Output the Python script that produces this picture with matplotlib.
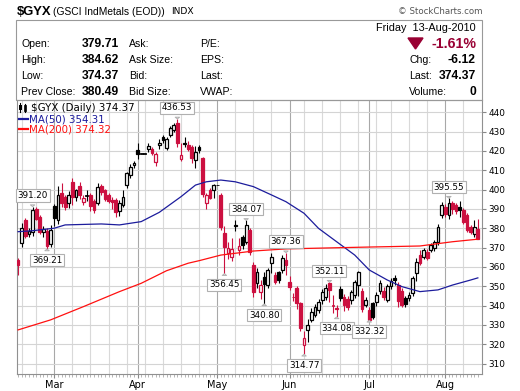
import matplotlib
matplotlib.use("Agg")
import matplotlib.pyplot as plt
from matplotlib.patches import Rectangle, Polygon
from matplotlib.lines import Line2D
import numpy as np
import pandas as pd

# trading days shown (US holidays skipped)
holidays = ["2010-02-15", "2010-05-31", "2010-07-05"]
dates = pd.bdate_range("2010-02-12", "2010-08-13").drop(pd.to_datetime(holidays))

opens = [363.6, 372.5, 384.5, 377.0, 378.0, 390.0, 386.0, 378.0, 378.5, 372.0,
         391.5, 384.0, 398.0, 396.0, 393.0, 404.0, 396.0, 402.0, 393.5, 397.0,
         397.0, 394.0, 393.0, 402.0, 399.5, 397.0, 394.5, 394.6, 389.0, 392.0,
         402.3, 407.5, 412.7, 420.4, 418.5, 418.5, 421.0, 421.0, 414.2, 423.2,
         427.3, 421.5, 428.2, 430.7, 434.4, 415.8, 423.5, 423.0, 422.0, 415.2,
         422.0, 416.3, 393.0, 399.9, 399.7, 402.3, 397.0, 377.5, 367.2, 365.0,
         381.0, 368.5, 375.5, 373.0, 379.0, 361.0, 351.6, 347.0, 354.8, 350.6,
         361.9, 355.8, 357.4, 358.4, 363.6, 352.2, 344.6, 349.0, 341.3, 319.6,
         327.4, 332.6, 335.1, 337.7, 342.9, 344.4, 351.5, 340.2, 338.6, 348.8,
         344.4, 343.5, 342.9, 345.5, 350.6, 347.5, 340.3, 337.8, 341.5, 341.9,
         347.5, 347.5, 342.9, 350.0, 354.5, 350.6, 347.5, 344.0, 344.0, 346.5,
         356.8, 366.1, 365.2, 367.7, 368.7, 369.8, 372.8, 386.8, 391.0, 386.8,
         393.0, 392.0, 391.0, 389.4, 386.8, 380.6, 376.8, 379.71]
highs = [364.6, 382.5, 385.5, 380.0, 391.20, 391.0, 387.0, 381.0, 380.0, 381.5,
         392.5, 402.0, 403.5, 397.0, 399.0, 406.0, 400.5, 404.0, 397.0, 399.5,
         398.0, 395.0, 403.5, 403.0, 400.5, 398.0, 396.0, 395.5, 394.5, 400.0,
         409.0, 413.0, 415.0, 424.0, 418.5, 418.5, 424.0, 422.0, 419.5, 426.0,
         428.0, 427.0, 433.0, 434.5, 436.53, 424.0, 427.0, 425.0, 423.0, 422.5,
         423.0, 417.0, 398.0, 401.0, 403.0, 402.3, 398.0, 381.0, 373.0, 375.0,
         384.5, 375.0, 376.5, 384.07, 380.0, 362.5, 359.5, 353.0, 357.4, 359.5,
         367.2, 357.5, 358.0, 366.0, 367.36, 355.5, 346.5, 350.0, 342.0, 327.0,
         333.0, 338.8, 341.0, 343.5, 348.5, 351.0, 352.11, 345.5, 340.5, 350.0,
         346.0, 345.0, 348.0, 353.0, 357.8, 349.0, 344.5, 339.0, 342.0, 347.0,
         353.0, 349.5, 351.0, 354.0, 356.0, 352.0, 349.0, 345.0, 347.0, 355.5,
         364.5, 368.7, 370.0, 369.0, 372.5, 374.0, 382.0, 393.7, 392.5, 395.55,
         394.0, 393.0, 394.0, 390.5, 388.0, 381.5, 384.0, 384.62]
lows = [355.8, 370.2, 375.0, 375.5, 376.0, 384.0, 377.0, 375.5, 369.21, 370.5,
        381.0, 382.0, 391.0, 389.5, 390.5, 392.0, 394.0, 395.0, 392.0, 394.0,
        389.0, 388.0, 392.0, 397.0, 394.0, 393.0, 390.0, 386.0, 386.5, 391.0,
        401.0, 406.0, 411.0, 416.0, 418.5, 418.5, 419.5, 418.0, 412.0, 421.0,
        424.0, 420.5, 427.0, 429.5, 422.0, 414.5, 421.8, 420.0, 413.5, 411.0,
        419.0, 396.0, 390.0, 395.0, 395.5, 402.3, 379.0, 356.45, 364.0, 363.0,
        378.5, 366.0, 369.5, 372.0, 366.0, 344.4, 349.0, 343.5, 340.80, 349.0,
        356.8, 351.0, 351.5, 357.0, 356.0, 348.0, 342.5, 338.0, 327.0, 314.77,
        321.0, 331.5, 334.0, 336.0, 341.0, 343.0, 341.9, 336.0, 334.08, 342.5,
        337.0, 337.5, 341.0, 344.0, 345.0, 336.5, 339.0, 332.32, 332.8, 340.0,
        346.0, 343.0, 342.0, 348.5, 350.5, 339.0, 339.5, 339.5, 342.5, 345.0,
        352.5, 361.0, 364.0, 363.5, 367.5, 368.0, 371.5, 385.1, 386.0, 385.0,
        387.5, 387.5, 386.0, 382.0, 378.0, 377.0, 375.5, 374.37]
closes = [361.0, 380.0, 376.0, 378.5, 389.5, 385.0, 378.0, 379.5, 371.0, 379.0,
          385.5, 397.0, 393.0, 391.0, 397.0, 396.0, 399.5, 397.0, 395.5, 397.2,
          391.5, 389.5, 401.5, 398.5, 395.0, 394.0, 393.5, 388.4, 393.0, 396.0,
          408.5, 411.6, 413.7, 418.5, 418.5, 418.5, 422.6, 418.8, 418.3, 423.9,
          425.6, 426.0, 431.8, 433.3, 424.1, 417.8, 424.0, 421.0, 416.3, 419.4,
          420.4, 397.5, 397.0, 395.6, 402.3, 402.3, 380.6, 370.3, 370.0, 369.0,
          381.6, 371.0, 371.5, 381.7, 367.7, 347.0, 357.4, 350.6, 351.0, 358.4,
          365.3, 352.2, 353.2, 364.6, 361.0, 349.6, 344.4, 341.3, 328.5, 323.2,
          330.0, 336.7, 339.3, 341.9, 347.0, 349.1, 348.1, 339.9, 338.2, 343.9,
          340.3, 339.5, 347.0, 352.2, 357.4, 338.0, 342.9, 332.6, 334.0, 345.5,
          351.7, 344.4, 350.0, 352.5, 353.0, 342.3, 340.3, 340.6, 345.5, 354.3,
          362.5, 362.0, 368.7, 364.8, 371.3, 372.8, 380.6, 392.0, 387.5, 393.0,
          389.9, 389.0, 389.6, 383.2, 379.1, 378.0, 380.49, 374.37]

# moving averages (day index, value)
ma50_idx = [0, 4, 10, 13, 19, 23, 28, 34, 39, 45, 49, 52, 56, 60,
            65, 70, 74, 79, 83, 88, 93, 97, 102, 106, 111, 116, 120, 125, 127]
ma50_val = [378.2, 378.7, 380.0, 381.7, 382.0, 382.2, 381.7, 383.4, 388.2, 396.3,
            402.3, 404.0, 404.9, 404.0, 401.5, 397.2, 393.7, 387.7, 379.9, 373.0,
            366.1, 358.4, 353.2, 349.8, 347.2, 348.1, 350.6, 353.2, 354.31]
ma200_idx = [0, 9, 18, 28, 34, 41, 47, 50, 56, 65, 74, 93, 111, 120, 127]
ma200_val = [327.4, 332.6, 339.4, 347.2, 351.5, 358.0, 361.9, 363.2, 366.1,
             368.2, 369.3, 370.1, 370.8, 373.0, 374.32]

# labelled extremes
hi_marks = [4, 44, 63, 74, 86, 119]
lo_marks = [8, 57, 68, 79, 88, 97]

RED = "#cc1040"
NAVY = "#1c1c9c"
MAROON = "#990033"
W, H = 520, 391


def fx(x):
    return x / W


def fy(y):
    return 1 - y / H


opens = np.array(opens)
highs = np.array(highs)
lows = np.array(lows)
closes = np.array(closes)
n = len(closes)
xs = np.arange(n)

fig = plt.figure(figsize=(5.2, 3.91), dpi=100)
ax = fig.add_axes([fx(17), fy(374), (482 - 17) / W, (374 - 100) / H])

# grid: weekly + month lines
week = dates.isocalendar().week.values
month = dates.month.values
for i in range(1, n):
    if month[i] != month[i - 1]:
        ax.axvline(i, color="#a8a8a8", lw=0.8, zorder=0)
    elif week[i] != week[i - 1]:
        ax.axvline(i, color="#d9d9d9", lw=0.8, zorder=0)
ax.grid(axis="y", color="#d4d4d4", lw=0.8, zorder=0)

# candles
prev = np.r_[opens[0], closes[:-1]]
for i in range(n):
    c = "black" if closes[i] >= prev[i] else RED
    ax.vlines(i, lows[i], highs[i], colors=c, lw=0.8, zorder=2)
    lo = min(opens[i], closes[i])
    h = abs(closes[i] - opens[i])
    if h < 0.4:
        ax.add_patch(Rectangle((i - 0.4, lo - 0.2), 0.8, 0.4, fc=c, ec=c,
                               lw=0.6, zorder=3))
    else:
        fc = "white" if closes[i] > opens[i] else c
        ax.add_patch(Rectangle((i - 0.38, lo), 0.76, h, fc=fc, ec=c,
                               lw=0.9, zorder=3))

ax.plot(ma50_idx, ma50_val, color=NAVY, lw=0.9, zorder=4)
ax.plot(ma200_idx, ma200_val, color="#ff1010", lw=0.9, zorder=4)

lab_box = dict(boxstyle="square,pad=0.2", fc="white", ec="#b0b0b0", lw=0.8)
for i in hi_marks:
    ax.annotate(f"{highs[i]:.2f}", xy=(i, highs[i]), xytext=(0, 8),
                textcoords="offset points", ha="center", va="center",
                fontsize=6.3, bbox=lab_box, zorder=6,
                arrowprops=dict(arrowstyle="wedge,tail_width=0.5", fc="white",
                                ec="#b0b0b0", lw=0.7, shrinkB=0))
for i in lo_marks:
    ax.annotate(f"{lows[i]:.2f}", xy=(i, lows[i]), xytext=(0, -8),
                textcoords="offset points", ha="center", va="center",
                fontsize=6.3, bbox=lab_box, zorder=6,
                arrowprops=dict(arrowstyle="wedge,tail_width=0.5", fc="white",
                                ec="#b0b0b0", lw=0.7, shrinkB=0))

ax.set_xlim(-0.3, 128.15)
ax.set_ylim(304.6, 446.3)
ax.set_yticks(np.arange(310, 441, 10))
ax.yaxis.tick_right()
ax.tick_params(axis="y", length=3, pad=1.5, labelsize=6.4, color="#888888")

starts = [i for i in range(1, n) if month[i] != month[i - 1]]
ax.set_xticks(starts)
ax.set_xticklabels([dates[i].strftime("%b") for i in starts])
ax.set_xticks(xs, minor=True)
ax.tick_params(axis="x", which="major", length=3, pad=1.5, labelsize=7,
               color="#888888")
ax.tick_params(axis="x", which="minor", length=2, color="#aaaaaa", width=0.6)
for s in ax.spines.values():
    s.set_color("#909090")
    s.set_linewidth(0.8)

# legend inside the chart
fig.add_artist(Line2D([fx(20), fx(20)], [fy(103), fy(112)], color="black",
                      lw=0.8, transform=fig.transFigure))
fig.add_artist(Rectangle((fx(19), fy(110)), 2.5 / W, 5 / H, fc="black",
                         transform=fig.transFigure))
fig.add_artist(Line2D([fx(25), fx(25)], [fy(104), fy(112)], color="black",
                      lw=0.8, transform=fig.transFigure))
fig.add_artist(Rectangle((fx(23.8), fy(111)), 2.5 / W, 6 / H, fc="white",
                         ec="black", lw=0.6, transform=fig.transFigure))
fig.text(fx(31), fy(108), f"\\$GYX (Daily) {closes[-1]:.2f}", fontsize=7.4,
         va="center")
fig.add_artist(Line2D([fx(19), fx(28)], [fy(119), fy(119)], color=NAVY, lw=1.6,
                      transform=fig.transFigure))
fig.text(fx(29), fy(119), f"MA(50) {ma50_val[-1]:.2f}", fontsize=7.4,
         va="center", color=NAVY)
fig.add_artist(Line2D([fx(19), fx(28)], [fy(129), fy(129)], color="#ff1010",
                      lw=1.6, transform=fig.transFigure))
fig.text(fx(29), fy(129), f"MA(200) {ma200_val[-1]:.2f}", fontsize=7.4,
         va="center", color="#ff1010")

# title line
hf = "Liberation Sans"
fig.text(fx(17), fy(12), "\\$GYX", fontsize=9.4, fontweight="bold",
         family=hf, va="center")
fig.text(fx(53), fy(12), "(GSCI IndMetals (EOD))", fontsize=7.4, family=hf,
         va="center")
fig.text(fx(171), fy(12), "INDX", fontsize=6.6, va="center")
fig.text(fx(482), fy(12), "\u00a9 StockCharts.com", fontsize=6.2, va="center",
         ha="right", color="#555555")

# quote header box
fig.add_artist(Rectangle((fx(16), fy(100)), (482 - 16) / W, 80 / H, fill=False,
                         ec="#999999", lw=0.8, transform=fig.transFigure))
rows = [44, 60, 76, 92]
names1 = ["Open:", "High:", "Low:", "Prev Close:"]
vals1 = [opens[-1], highs[-1], lows[-1], closes[-2]]
names2 = ["Ask:", "Ask Size:", "Bid:", "Bid Size:"]
names3 = ["P/E:", "EPS:", "Last:", "VWAP:"]
for y, a, v, b, c in zip(rows, names1, vals1, names2, names3):
    fig.text(fx(21), fy(y), a, fontsize=7.6, family=hf, va="center")
    fig.text(fx(119), fy(y), f"{v:.2f}", fontsize=8.7, family=hf,
             fontweight="bold", va="center", ha="right")
    fig.text(fx(129), fy(y), b, fontsize=7.6, family=hf, va="center")
    fig.text(fx(200), fy(y), c, fontsize=7.6, family=hf, va="center")

chg = closes[-1] - closes[-2]
pct = chg / closes[-2] * 100
fig.text(fx(476), fy(28), "Friday  " + dates[-1].strftime("%d-%b-%Y"),
         fontsize=7.8, family=hf, va="center", ha="right")
fig.add_artist(Polygon([(fx(408), fy(38)), (fx(423), fy(38)), (fx(415.5), fy(49))],
                       closed=True, fc=MAROON, ec=MAROON,
                       transform=fig.transFigure))
fig.text(fx(476), fy(44), f"{pct:.2f}%", fontsize=10.2, family=hf,
         fontweight="bold", color=MAROON, va="center", ha="right")
right_names = ["Chg:", "Last:", "Volume:"]
right_vals = [f"{chg:.2f}", f"{closes[-1]:.2f}", "0"]
for y, a, v in zip(rows[1:], right_names, right_vals):
    fig.text(fx(409), fy(y), a, fontsize=7.6, family=hf, va="center")
    fig.text(fx(476), fy(y), v, fontsize=8.7, family=hf, fontweight="bold",
             va="center", ha="right")

fig.savefig("out.png", dpi=100)
